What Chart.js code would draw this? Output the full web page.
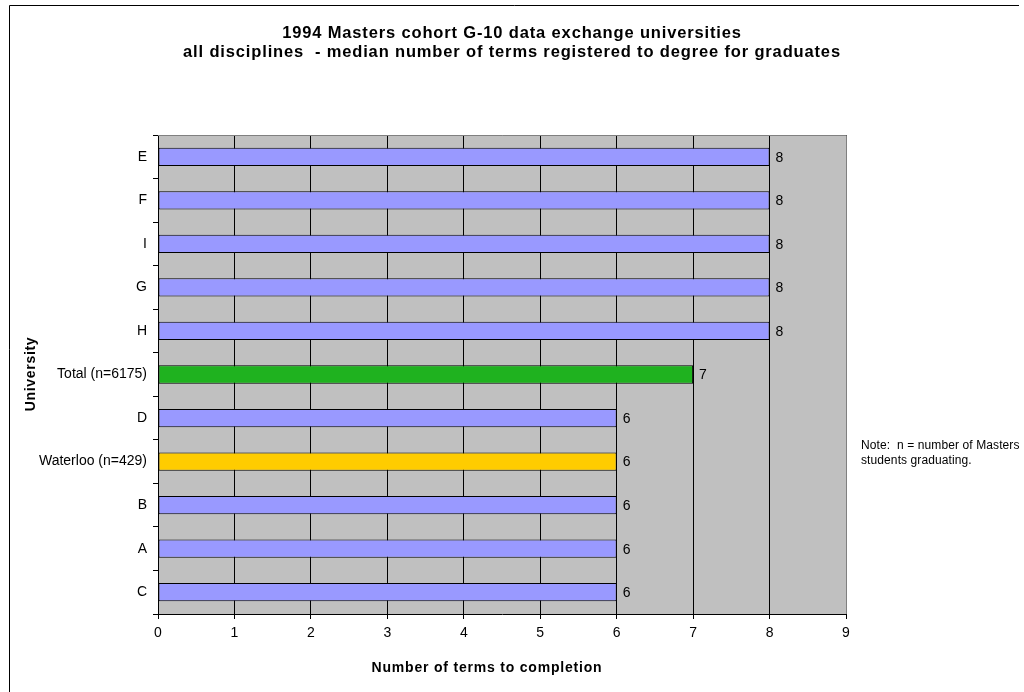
<!DOCTYPE html>
<html>
<head>
<meta charset="utf-8">
<script src="https://cdn.jsdelivr.net/npm/chart.js@4"></script>
<style>
  html, body { margin: 0; padding: 0; background: #fff; }
  #wrap { width: 1024px; height: 692px; }
</style>
</head>
<body>
<div id="wrap"><canvas id="termsChart" width="1024" height="692"></canvas></div>
<script>
// categories top to bottom, as in the picture
const universities = ['E', 'F', 'I', 'G', 'H', 'Total (n=6175)', 'D', 'Waterloo (n=429)', 'B', 'A', 'C'];
const medianTerms = [8, 8, 8, 8, 8, 7, 6, 6, 6, 6, 6];
const xTicks = [0, 1, 2, 3, 4, 5, 6, 7, 8, 9];
const titleLines = [
  '1994 Masters cohort G-10 data exchange universities',
  'all disciplines  - median number of terms registered to degree for graduates'
];
const xTitle = 'Number of terms to completion';
const yTitle = 'University';
const noteLines = ['Note:  n = number of Masters', 'students graduating.'];

const FONT = '"Liberation Sans", Arial, sans-serif';

const barColors = universities.map(u => {
  if (u.startsWith('Total')) return '#1fb21f';
  if (u.startsWith('Waterloo')) return '#ffcc00';
  return '#9999ff';
});

const ctx = document.getElementById('termsChart').getContext('2d');

// gray plot area, frame, titles and note
const decorations = {
  id: 'decorations',
  beforeDraw(chart) {
    const c = chart.ctx;
    const a = chart.chartArea;
    c.save();
    c.fillStyle = '#fff';
    c.fillRect(0, 0, chart.width, chart.height);
    c.strokeStyle = '#000';
    c.lineWidth = 1;
    c.beginPath();
    c.moveTo(9.5, 700);
    c.lineTo(9.5, 5.5);
    c.lineTo(1019, 5.5);
    c.stroke();
    c.fillStyle = '#c0c0c0';
    c.fillRect(a.left, a.top, a.right - a.left, a.bottom - a.top);
    c.restore();
  },
  afterDraw(chart) {
    const c = chart.ctx;
    const a = chart.chartArea;
    c.save();
    c.strokeStyle = '#808080';
    c.lineWidth = 1;
    c.beginPath();
    c.moveTo(a.left, a.top + 0.5);
    c.lineTo(a.right + 0.5, a.top + 0.5);
    c.lineTo(a.right + 0.5, a.bottom);
    c.stroke();

    c.fillStyle = '#000';
    c.textAlign = 'center';
    c.textBaseline = 'middle';
    c.font = 'bold 16.5px ' + FONT;
    c.letterSpacing = '0.85px';
    c.fillText(titleLines[0], 512, 33);
    c.fillText(titleLines[1], 512, 52);

    c.font = 'bold 14px ' + FONT;
    c.letterSpacing = '0.8px';
    c.fillText(xTitle, 487, 668);

    c.save();
    c.translate(31, 374);
    c.rotate(-Math.PI / 2);
    c.letterSpacing = '0.7px';
    c.fillText(yTitle, 0, 0);
    c.restore();

    c.textAlign = 'left';
    c.font = '12px ' + FONT;
    c.letterSpacing = '0.1px';
    c.fillText(noteLines[0], 861, 446);
    c.fillText(noteLines[1], 861, 461);
    c.restore();
  },
  afterDatasetsDraw(chart) {
    const c = chart.ctx;
    const meta = chart.getDatasetMeta(0);
    c.save();
    c.fillStyle = '#000';
    c.font = '14px ' + FONT;
    c.textAlign = 'left';
    c.textBaseline = 'middle';
    meta.data.forEach((bar, i) => {
      c.fillText(String(medianTerms[i]), bar.x + 6, bar.y + 1);
    });
    c.restore();
  }
};

const chart = new Chart(ctx, {
  type: 'bar',
  data: {
    labels: universities,
    datasets: [{
      label: 'Median number of terms',
      data: medianTerms,
      backgroundColor: barColors,
      borderColor: '#000',
      borderWidth: 1,
      borderSkipped: false,
      barPercentage: 0.42,
      categoryPercentage: 1
    }]
  },
  options: {
    indexAxis: 'y',
    responsive: false,
    animation: false,
    events: [],
    layout: { padding: { top: 135, right: 178, bottom: 0, left: 0 } },
    plugins: {
      legend: { display: false },
      title: { display: false },
      tooltip: { enabled: false }
    },
    scales: {
      x: {
        type: 'linear',
        min: 0,
        max: 9,
        afterBuildTicks(scale) {
          scale.ticks = xTicks.map(v => ({ value: v }));
        },
        afterFit(scale) { scale.height = 78; },
        grid: {
          color: '#000',
          lineWidth: 1,
          drawTicks: true,
          tickLength: 5
        },
        border: { display: true, color: '#000', width: 1 },
        ticks: {
          color: '#000',
          font: { family: FONT, size: 14 },
          padding: 6,
          maxRotation: 0
        }
      },
      y: {
        type: 'category',
        offset: true,
        afterFit(scale) { scale.width = 158; },
        grid: {
          offset: true,
          drawOnChartArea: false,
          drawTicks: true,
          tickLength: 5,
          color: '#000'
        },
        border: { display: true, color: '#000', width: 1 },
        ticks: {
          color: '#000',
          font: { family: FONT, size: 14 },
          padding: 6
        }
      }
    }
  },
  plugins: [decorations]
});
</script>
</body>
</html>
